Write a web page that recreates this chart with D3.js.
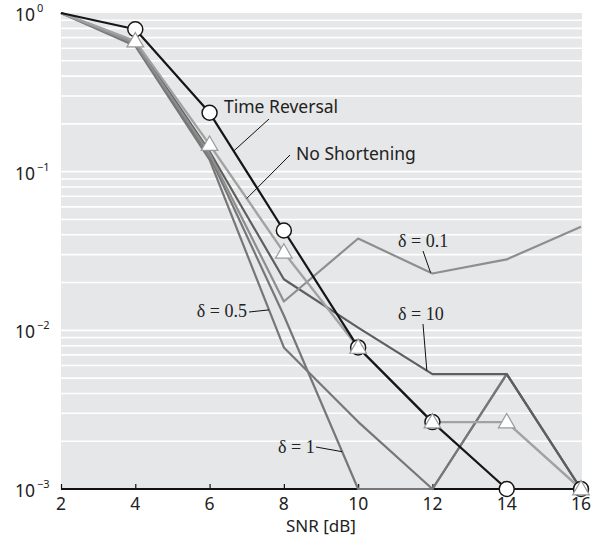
<!DOCTYPE html>
<html>
<head>
<meta charset="utf-8">
<script src="https://cdn.jsdelivr.net/npm/d3@7"></script>
<style>
  body { margin: 0; background: #fff; }
</style>
</head>
<body>
<svg id="chart" width="600" height="537"></svg>
<script>
// SNR points (dB)
const snr = [2, 4, 6, 8, 10, 12, 14, 16];
const xTicks = [2, 4, 6, 8, 10, 12, 14, 16];
const yDecades = [1, 0.1, 0.01, 0.001];
const yExponents = ["0", "\u22121", "\u22122", "\u22123"];

// BER curves
const timeReversal = [1, 0.79, 0.235, 0.0426, 0.0078, 0.00264, 0.001, 0.001];
const noShortening = [1, 0.665, 0.148, 0.031, 0.0078, 0.00264, 0.00264, 0.001];
const delta01 = [1, 0.64, 0.13, 0.0152, 0.0379, 0.0228, 0.028, 0.045];
const delta10 = [1, 0.66, 0.134, 0.021, 0.0104, 0.0053, 0.0053, 0.001];
const delta05 = [1, 0.62, 0.119, 0.0078, 0.00265, 0.001, 0.0053, 0.001];
const delta1 = [1, 0.63, 0.126, 0.0124, 0.001, 0.001, 0.0053, 0.001];

const svg = d3.select("#chart");

const x = d3.scaleLinear().domain([2, 16]).range([61, 581]);
const y = d3.scaleLog().domain([0.001, 1]).range([489, 13]);

// grey plot background
svg.append("rect")
  .attr("x", x(2))
  .attr("y", y(1))
  .attr("width", x(16) - x(2) + 1)
  .attr("height", y(0.001) - y(1))
  .attr("fill", "#e6e7e8");

// white grid lines on every log tick
svg.append("g")
  .selectAll("line")
  .data(y.ticks().filter(t => t > 0.0011 && t < 0.99))
  .join("line")
  .attr("x1", x(2))
  .attr("x2", x(16) + 1)
  .attr("y1", d => y(d))
  .attr("y2", d => y(d))
  .attr("stroke", "#fff")
  .attr("stroke-width", 1.6);

// x axis
const xAxis = svg.append("g")
  .attr("transform", `translate(0,${y(0.001)})`)
  .call(d3.axisTop(x).tickValues(xTicks).tickSize(5).tickFormat(""));
xAxis.select(".domain").attr("stroke", "#111").attr("stroke-width", 2)
  .attr("d", `M${x(2)},0H${x(16) + 1}`);
xAxis.selectAll(".tick line").attr("stroke", "#111").attr("stroke-width", 1.2);

svg.append("g")
  .selectAll("text")
  .data(xTicks)
  .join("text")
  .attr("x", d => x(d))
  .attr("y", y(0.001) + 21)
  .attr("text-anchor", "middle")
  .attr("font-family", "'Noto Sans', sans-serif")
  .attr("font-size", 17.5)
  .attr("fill", "#222")
  .text(d => d);

svg.append("text")
  .attr("x", (x(2) + x(16)) / 2)
  .attr("y", 532)
  .attr("text-anchor", "middle")
  .attr("font-family", "'Noto Sans', sans-serif")
  .attr("font-size", 17)
  .attr("fill", "#222")
  .text("SNR [dB]");

// y labels 10^k
const yLab = svg.append("g")
  .selectAll("text")
  .data(yDecades)
  .join("text")
  .attr("x", 15)
  .attr("y", d => y(d) + 8)
  .attr("font-family", "'Noto Sans', sans-serif")
  .attr("font-size", 17.5)
  .attr("fill", "#222");
yLab.append("tspan").text("10");
yLab.append("tspan")
  .attr("dx", 2)
  .attr("dy", -9)
  .attr("font-size", 11)
  .text((d, i) => yExponents[i]);

// curves
const line = d3.line()
  .x((d, i) => x(snr[i]))
  .y(d => y(d));

const curves = [
  { values: delta05, color: "#777", width: 2.2 },
  { values: delta1, color: "#777", width: 2.2 },
  { values: delta10, color: "#5e5e5e", width: 2.2 },
  { values: delta01, color: "#8e8e8e", width: 2.2 },
  { values: noShortening, color: "#a2a2a2", width: 2.4 },
  { values: timeReversal, color: "#161616", width: 2.2 },
];

svg.append("g")
  .selectAll("path")
  .data(curves)
  .join("path")
  .attr("d", d => line(d.values))
  .attr("fill", "none")
  .attr("stroke", d => d.color)
  .attr("stroke-width", d => d.width)
  .attr("stroke-linejoin", "round");

// markers, time reversal circles under no-shortening triangles
svg.append("g")
  .selectAll("circle")
  .data(timeReversal.slice(1))
  .join("circle")
  .attr("cx", (d, i) => x(snr[i + 1]))
  .attr("cy", d => y(d))
  .attr("r", 7.5)
  .attr("fill", "#fff")
  .attr("stroke", "#161616")
  .attr("stroke-width", 1.5);

const tri = d3.symbol(d3.symbolTriangle, 120);
svg.append("g")
  .selectAll("path")
  .data(noShortening.slice(1))
  .join("path")
  .attr("transform", (d, i) => `translate(${x(snr[i + 1])},${y(d) + 1})`)
  .attr("d", tri)
  .attr("fill", "#fff")
  .attr("stroke", "#9a9a9a")
  .attr("stroke-width", 1.2);

// point on a curve at a given snr (log-linear between samples)
function pointOn(values, s) {
  const i = Math.min(Math.floor((s - snr[0]) / 2), snr.length - 2);
  const t = (s - snr[i]) / (snr[i + 1] - snr[i]);
  const ly = Math.log10(values[i]) * (1 - t) + Math.log10(values[i + 1]) * t;
  return [x(s), y(Math.pow(10, ly))];
}

function label(text, tx, ty, anchor, serif, from, values, s) {
  const p = pointOn(values, s);
  svg.append("line")
    .attr("x1", from[0]).attr("y1", from[1])
    .attr("x2", p[0]).attr("y2", p[1])
    .attr("stroke", "#111")
    .attr("stroke-width", 1);
  svg.append("text")
    .attr("x", tx)
    .attr("y", ty)
    .attr("text-anchor", anchor)
    .attr("font-family", serif ? "'Liberation Serif', serif" : "'Noto Sans', sans-serif")
    .attr("font-size", serif ? 18 : 17.5)
    .attr("fill", "#222")
    .text(text);
}

label("Time Reversal", 224, 113, "start", false, [269, 119], timeReversal, 6.65);
label("No Shortening", 296, 160, "start", false, [290, 155], noShortening, 7.0);
label("\u03b4 = 0.1", 398, 247, "start", true, [423, 251], delta01, 11.95);
label("\u03b4 = 10", 398, 320, "start", true, [423, 324], delta10, 11.85);
label("\u03b4 = 0.5", 247, 317, "end", true, [249, 312], delta05, 7.6);
label("\u03b4 = 1", 278, 453, "start", true, [316, 447], delta1, 9.57);
</script>
</body>
</html>
